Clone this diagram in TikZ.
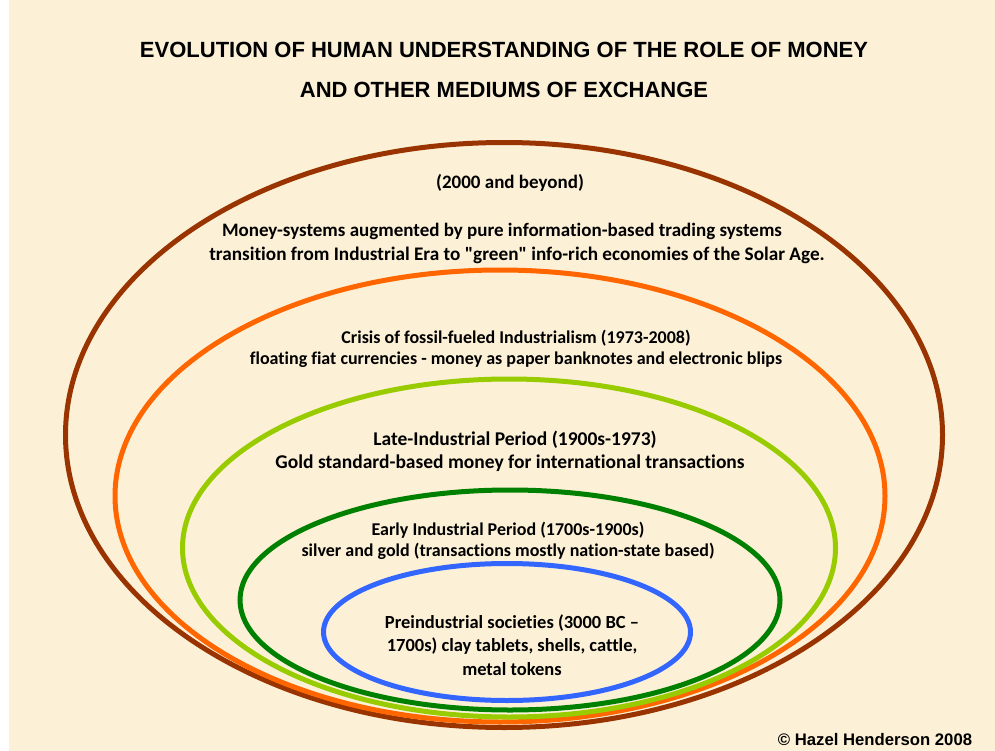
\documentclass[tikz,border=0pt]{standalone}
\usepackage{fontspec}
\setmainfont{Carlito}[Ligatures={TeXOff,NoCommon}]
\newfontfamily\headfont{Liberation Sans}
\usetikzlibrary{shapes.geometric}
\definecolor{parchment}{RGB}{252,241,215}
\definecolor{ringbrown}{RGB}{153,51,0}
\definecolor{ringorange}{RGB}{255,102,0}
\definecolor{ringlime}{RGB}{153,204,0}
\definecolor{ringgreen}{RGB}{0,128,0}
\definecolor{ringblue}{RGB}{51,102,255}
\tikzset{
  ring/.style={ellipse, draw=#1, line width=5pt, inner sep=0pt},
  heading/.style={font=\headfont\bfseries\fontsize{22}{24}\selectfont, inner sep=0pt},
  era/.style={font=\bfseries\fontsize{#1}{#1}\selectfont, inner sep=0pt, align=center},
}
\begin{document}
\begin{tikzpicture}[x=1pt,y=-1pt]
  % page and paper
  \useasboundingbox (0,0) rectangle (995,751);
  \fill[white] (0,0) rectangle (995,751);
  \fill[parchment] (9,0) rectangle (995,751);

  % nested eras, outermost first
  \node[ring=ringbrown,  minimum width=877pt, minimum height=585pt] (e5) at (504,435) {};
  \node[ring=ringorange, minimum width=770pt, minimum height=452pt] (e4) at (500,496) {};
  \node[ring=ringlime,   minimum width=653pt, minimum height=338pt] (e3) at (509,548) {};
  \node[ring=ringgreen,  minimum width=540pt, minimum height=220pt] (e2) at (510,600) {};
  \node[ring=ringblue,   minimum width=367pt, minimum height=137pt] (e1) at (507,632) {};

  % title
  \node[heading] (t1) at (504,50) {EVOLUTION OF HUMAN UNDERSTANDING OF THE ROLE OF MONEY};
  \node[heading] (t2) at (504,90) {AND OTHER MEDIUMS OF EXCHANGE};

  % era descriptions
  \node[era=19] (d5a) at (510,183) {(2000 and beyond)};
  \node[era=19] (d5b) at (502,231) {Money-systems augmented by pure information-based trading systems};
  \node[era=19.2] (d5c) at (517,255) {transition from Industrial Era to "green" info-rich economies of the Solar Age.};

  \node[era=18] (d4a) at (516,338) {Crisis of fossil-fueled Industrialism (1973-2008)};
  \node[era=18] (d4b) at (516,360) {floating fiat currencies - money as paper banknotes and electronic blips};

  \node[era=19.5] (d3a) at (515,440) {Late-Industrial Period (1900s-1973)};
  \node[era=19.5] (d3b) at (510,463) {Gold standard-based money for international transactions};

  \node[era=18] (d2a) at (508,530) {Early Industrial Period (1700s-1900s)};
  \node[era=18] (d2b) at (508,551) {silver and gold (transactions mostly nation-state based)};

  \node[era=18.5] (d1a) at (512,623) {Preindustrial societies (3000 BC –};
  \node[era=18.5] (d1b) at (512,646) {1700s) clay tablets, shells, cattle,};
  \node[era=18.5] (d1c) at (512,669) {metal tokens};

  % credit line
  \node[font=\headfont\bfseries\fontsize{16.7}{18}\selectfont, inner sep=0pt] (cr) at (875,740) {© Hazel Henderson 2008};
\end{tikzpicture}
\end{document}
